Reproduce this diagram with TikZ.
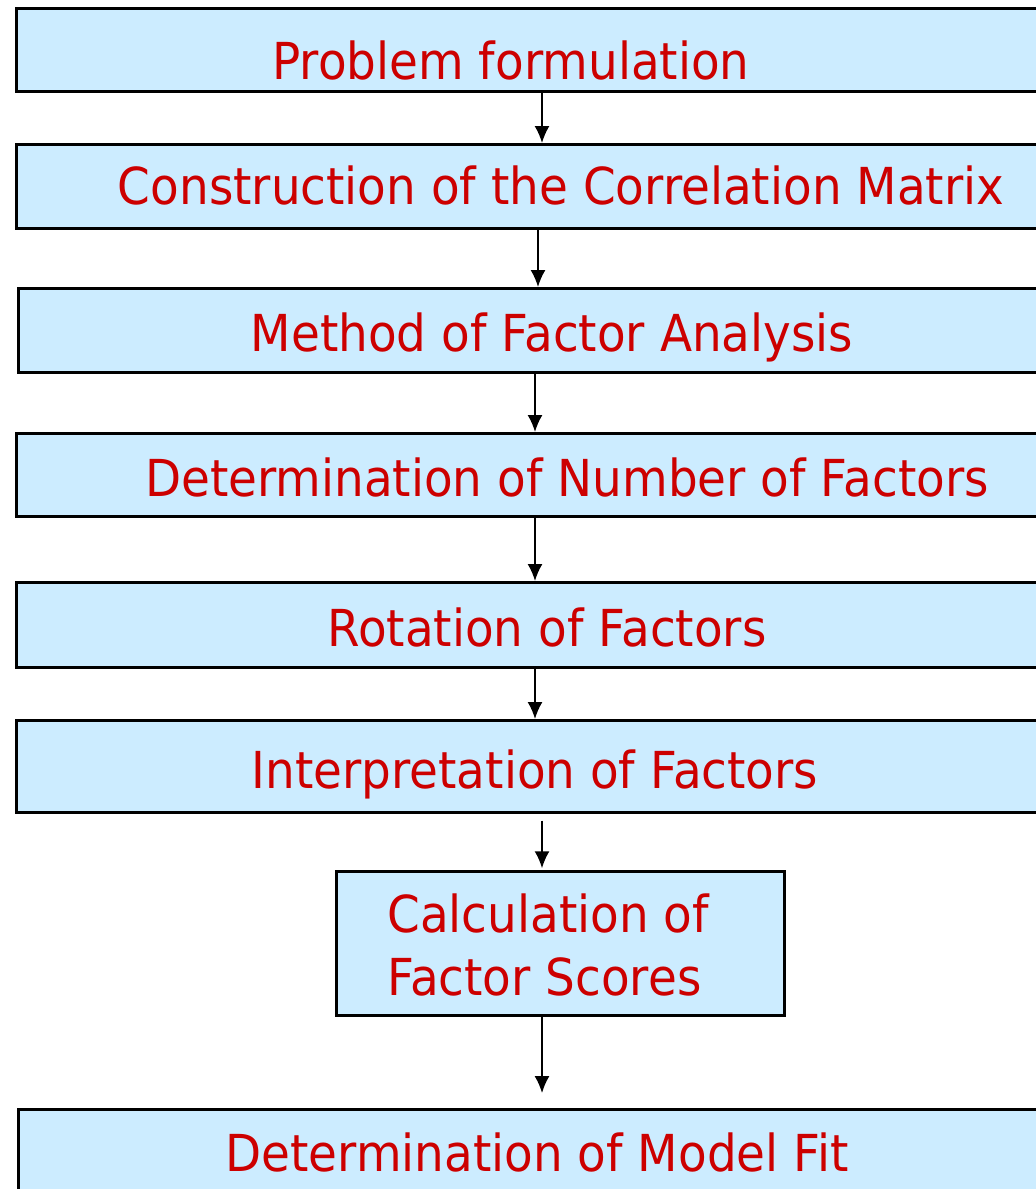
\documentclass[tikz,border=0pt]{standalone}
\usepackage{fontspec}
\setmainfont{DejaVu Sans}[FakeStretch=0.92]
\usepackage{tikz}
\usetikzlibrary{arrows.meta,calc}
\definecolor{boxfill}{HTML}{CCECFF}
\definecolor{txtred}{HTML}{CC0000}

\begin{document}
\begin{tikzpicture}[
    x=0.02cm, y=-0.02cm,
    box/.style={draw, fill=boxfill, line width=1.5pt, anchor=north west, inner sep=0pt, minimum width=20.7cm},
    lbl/.style={text=txtred, font=\fontsize{29}{35.7}\selectfont, anchor=base, inner sep=0pt},
    arr/.style={-{Latex[length=3.4mm, width=3mm]}, line width=1pt}
  ]
    \useasboundingbox (0,0) rectangle (1035,1189);
    \node[box, minimum height=1.66cm] (b1) at (15,7) {};
    \node[box, minimum height=1.68cm] (b2) at (15,143) {};
    \node[box, minimum height=1.68cm] (b3) at (17,287) {};
    \node[box, minimum height=1.66cm] (b4) at (15,432) {};
    \node[box, minimum height=1.70cm] (b5) at (15,581) {};
    \node[box, minimum height=1.84cm] (b6) at (15,719) {};
    \node[box, minimum width=8.96cm, minimum height=2.88cm] (b7) at (335,870) {};
    \node[box, minimum height=2.0cm] (b8) at (17,1108) {};

    \node[lbl] (t1) at (511,80) {Problem formulation};
    \node[lbl] (t2) at (561,205) {Construction of the Correlation Matrix};
    \node[lbl] (t3) at (552,351) {Method of Factor Analysis};
    \node[lbl] (t4) at (567,496) {Determination of Number of Factors};
    \node[lbl] (t5) at (547,646) {Rotation of Factors};
    \node[lbl] (t6) at (535,788) {Interpretation of Factors};
    \node[lbl, anchor=base west, align=left] (t7) at (387,995) {Calculation of\\Factor Scores};
    \node[lbl] (t8) at (537,1171) {Determination of Model Fit};

    \draw[arr] ($(b1.south west)+(527,0)$) -- ($(b2.north west)+(527,0)$);
    \draw[arr] ($(b2.south west)+(523,0)$) -- ($(b3.north west)+(521,0)$);
    \draw[arr] ($(b3.south west)+(518,0)$) -- ($(b4.north west)+(520,0)$);
    \draw[arr] ($(b4.south west)+(520,0)$) -- ($(b5.north west)+(520,0)$);
    \draw[arr] ($(b5.south west)+(520,0)$) -- ($(b6.north west)+(520,0)$);
    \draw[arr, shorten <=4pt, shorten >=1pt] ($(b6.south west)+(527,0)$) -- ($(b7.north west)+(207,0)$);
    \draw[arr, shorten >=8.5pt] ($(b7.south west)+(207,0)$) -- ($(b8.north west)+(525,0)$);
  \end{tikzpicture}
\end{document}
